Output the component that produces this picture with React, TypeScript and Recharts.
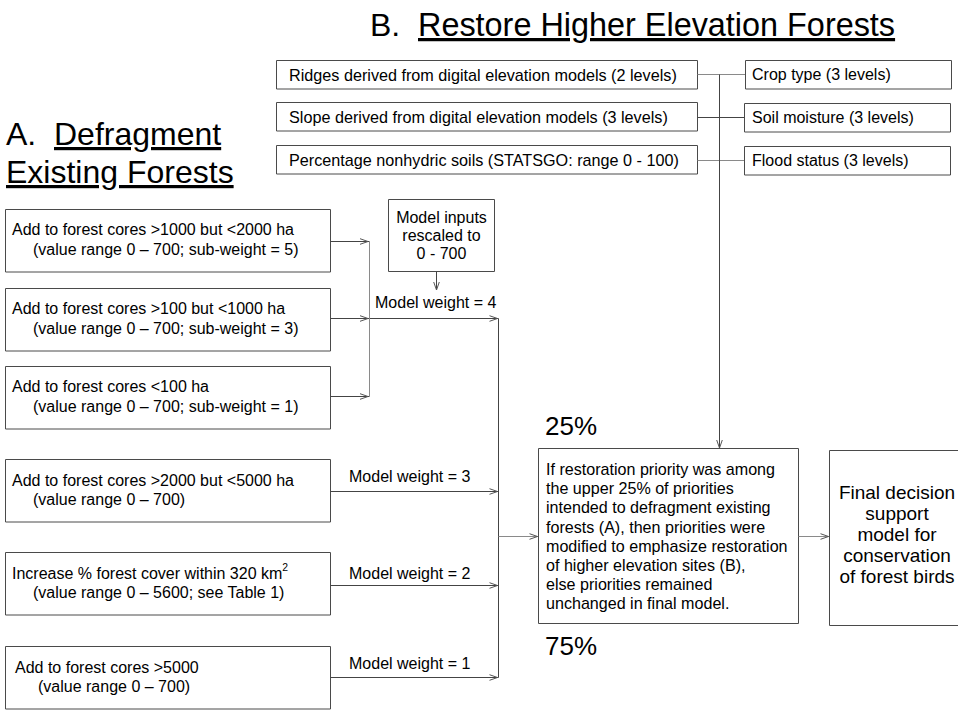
import React from 'react';
import { ComposedChart, XAxis, YAxis, ReferenceArea, ReferenceLine, Scatter } from 'recharts';

const W = 958;
const H = 711;
const FONT = '"Liberation Sans", Arial, Helvetica, sans-serif';

// ---------- content ----------
const titleA = ['A.', 'Defragment', 'Existing Forests'];
const titleB = ['B.', 'Restore Higher Elevation Forests'];
const elevationInputs = [
  'Ridges derived from digital elevation models (2 levels)',
  'Slope derived from digital elevation models (3 levels)',
  'Percentage nonhydric soils (STATSGO: range 0 - 100)',
];
const landInputs = ['Crop type (3 levels)', 'Soil moisture (3 levels)', 'Flood status (3 levels)'];
const coreInputs = [
  ['Add to forest cores >1000 but <2000 ha', '(value range 0 \u2013 700; sub-weight = 5)'],
  ['Add to forest cores >100 but <1000 ha', '(value range 0 \u2013 700; sub-weight = 3)'],
  ['Add to forest cores <100 ha', '(value range 0 \u2013 700; sub-weight = 1)'],
];
const otherInputs = [
  ['Add to forest cores >2000 but <5000 ha', '(value range 0 \u2013 700)'],
  ['Increase % forest cover within 320 km^2', '(value range 0 \u2013 5600; see Table 1)'],
  ['Add to forest cores >5000', '(value range 0 \u2013 700)'],
];
const modelWeights = [4, 3, 2, 1];
const rescaleNote = ['Model inputs', 'rescaled to', '0 - 700'];
const ruleText = [
  'If restoration priority was among',
  'the upper 25% of priorities',
  'intended to defragment existing',
  'forests (A), then priorities were',
  'modified to emphasize restoration',
  'of higher elevation sites (B),',
  'else priorities remained',
  'unchanged in final model.',
];
const finalText = ['Final decision', 'support', 'model for', 'conservation', 'of forest birds'];
const shares = ['25%', '75%'];

// ---------- layout (diagram units = pixels) ----------
const elevBoxY = [60, 102, 145];
const elevBoxH = 28.5;
const landBoxY = [60, 103, 146];
const coreBoxY = [209, 288, 366];
const otherBoxY = [459, 552, 646];
const leftBoxH = 62.5;
const weightLabelY = [302, 476, 573, 663];
const otherIndent = [[12, 33], [12, 33], [15, 38]];

type Box = { x1: number; x2: number; y1: number; y2: number };
const boxes: Box[] = [
  ...elevBoxY.map((y) => ({ x1: 276.5, x2: 697.5, y1: y + 0.5, y2: y + 0.5 + elevBoxH })),
  ...landBoxY.map((y, i) => ({ x1: i === 0 ? 745.5 : 744.5, x2: i === 0 ? 951.5 : 950.5, y1: y + 0.5, y2: y + 0.5 + elevBoxH })),
  ...coreBoxY.map((y) => ({ x1: 5.5, x2: 330.5, y1: y + 0.5, y2: y + 0.5 + leftBoxH })),
  ...otherBoxY.map((y) => ({ x1: 5.5, x2: 330.5, y1: y + 0.5, y2: y + 0.5 + leftBoxH })),
  { x1: 388.5, x2: 494.5, y1: 199.5, y2: 271.5 },
  { x1: 538.5, x2: 798.5, y1: 448.5, y2: 623.5 },
  { x1: 829.5, x2: 985, y1: 450.5, y2: 625.5 },
];

type Seg = { a: [number, number]; b: [number, number]; light?: boolean };
const segs: Seg[] = [
  { a: [697.5, 74.5], b: [745, 74.5], light: true },
  { a: [697.5, 117.5], b: [744, 117.5] },
  { a: [697.5, 160.5], b: [744, 160.5], light: true },
  { a: [719.5, 74.5], b: [719.5, 448] },
  { a: [330.5, 241.5], b: [369.5, 241.5] },
  { a: [330.5, 318.5], b: [498.5, 318.5] },
  { a: [330.5, 396.5], b: [369.5, 396.5] },
  { a: [369.5, 241.5], b: [369.5, 396.5], light: true },
  { a: [436.5, 271.5], b: [436.5, 290] },
  { a: [498.5, 318.5], b: [498.5, 677.5] },
  { a: [330.5, 491.5], b: [498.5, 491.5] },
  { a: [330.5, 585.5], b: [498.5, 585.5] },
  { a: [330.5, 677.5], b: [498.5, 677.5] },
  { a: [498.5, 536.5], b: [538, 536.5], light: true },
  { a: [798.5, 536.5], b: [829, 536.5], light: true },
];

const arrowHeads = [
  { x: 719.5, y: 448, dir: 'down' },
  { x: 436.5, y: 290, dir: 'down' },
  { x: 368, y: 241.5, dir: 'right' },
  { x: 368, y: 318.5, dir: 'right' },
  { x: 368, y: 396.5, dir: 'right' },
  { x: 497.5, y: 318.5, dir: 'right' },
  { x: 497.5, y: 491.5, dir: 'right' },
  { x: 497.5, y: 585.5, dir: 'right' },
  { x: 497.5, y: 677.5, dir: 'right' },
  { x: 537.5, y: 536.5, dir: 'right' },
  { x: 828.5, y: 536.5, dir: 'right' },
];

type TextItem = {
  x: number;
  y: number;
  label: string;
  size: number;
  anchor?: string;
  underline?: boolean;
  baseline?: boolean;
};

const texts: TextItem[] = [
  { x: 370, y: 36, label: titleB[0], size: 32, baseline: true },
  { x: 418, y: 36, label: titleB[1], size: 32.4, baseline: true, underline: true },
  { x: 6, y: 145, label: titleA[0], size: 32, baseline: true },
  { x: 54, y: 145, label: titleA[1], size: 32, baseline: true, underline: true },
  { x: 6, y: 183, label: titleA[2], size: 32, baseline: true, underline: true },
  ...elevationInputs.map((t, i) => ({ x: 289, y: elevBoxY[i] + 14.5, label: t, size: 16.2 })),
  ...landInputs.map((t, i) => ({ x: 752, y: landBoxY[i] + 14.5, label: t, size: 16 })),
  ...coreInputs.flatMap((lines, i) =>
    lines.map((t, j) => ({ x: j === 0 ? 12 : 33, y: coreBoxY[i] + 20 + j * 20, label: t, size: 16 }))
  ),
  ...otherInputs.flatMap((lines, i) =>
    lines.map((t, j) => ({ x: otherIndent[i][j], y: otherBoxY[i] + 21 + j * 19.5, label: t, size: 16 }))
  ),
  ...rescaleNote.map((t, i) => ({ x: 441.5, y: 217 + i * 18, label: t, size: 16, anchor: 'middle' })),
  ...modelWeights.map((w, i) => ({ x: i === 0 ? 375 : 349, y: weightLabelY[i], label: `Model weight = ${w}`, size: 16 })),
  ...ruleText.map((t, i) => ({ x: 546, y: 469 + i * 19.2, label: t, size: 16.1 })),
  ...finalText.map((t, i) => ({ x: 897, y: 492 + i * 21, label: t, size: 19, anchor: 'middle' })),
  { x: 545, y: 435, label: shares[0], size: 26, baseline: true },
  { x: 545, y: 655, label: shares[1], size: 26, baseline: true },
];

const TextShape = (p: any) => {
  const d: TextItem = p.payload;
  const parts = d.label.split('^');
  return (
    <text
      x={p.cx}
      y={p.cy}
      fontSize={d.size}
      fontFamily={FONT}
      fill="#000"
      textAnchor={d.anchor || 'start'}
      dominantBaseline={d.baseline ? 'alphabetic' : 'central'}
      textDecoration={d.underline ? 'underline' : undefined}
    >
      {parts[0]}
      {parts.length > 1 ? (
        <tspan fontSize={d.size * 0.65} dy={-6}>
          {parts[1]}
        </tspan>
      ) : null}
    </text>
  );
};

const ArrowShape = (p: any) => {
  const { cx, cy } = p;
  const dir = p.payload.dir;
  const L = 8;
  const w = 2.8;
  const d =
    dir === 'down'
      ? `M${cx - w},${cy - L} L${cx},${cy} L${cx + w},${cy - L}`
      : `M${cx - L},${cy - w} L${cx},${cy} L${cx - L},${cy + w}`;
  return <path d={d} fill="none" stroke="#555" strokeWidth={1} />;
};

export default function App() {
  return (
    <div style={{ position: 'absolute', left: 0, top: 0, width: W, height: H, background: '#fff' }}>
      <ComposedChart width={W} height={H} margin={{ top: 0, right: 0, bottom: 0, left: 0 }}>
        <XAxis type="number" dataKey="x" domain={[0, W]} allowDataOverflow hide scale="linear" />
        <YAxis type="number" dataKey="y" domain={[0, H]} allowDataOverflow hide reversed scale="linear" />
        {boxes.map((b, i) => (
          <ReferenceArea
            key={`b${i}`}
            x1={b.x1}
            x2={b.x2}
            y1={b.y1}
            y2={b.y2}
            fill="#fff"
            fillOpacity={1}
            stroke="#4a4a4a"
            strokeWidth={1}
            ifOverflow="visible"
          />
        ))}
        {segs.map((s, i) => (
          <ReferenceLine
            key={`s${i}`}
            segment={[
              { x: s.a[0], y: s.a[1] },
              { x: s.b[0], y: s.b[1] },
            ]}
            stroke={s.light ? '#8a8a8a' : '#444'}
            strokeWidth={1}
            ifOverflow="visible"
          />
        ))}
        <Scatter data={arrowHeads} dataKey="y" shape={ArrowShape} isAnimationActive={false} />
        <Scatter data={texts} dataKey="y" shape={TextShape} isAnimationActive={false} />
      </ComposedChart>
    </div>
  );
}
